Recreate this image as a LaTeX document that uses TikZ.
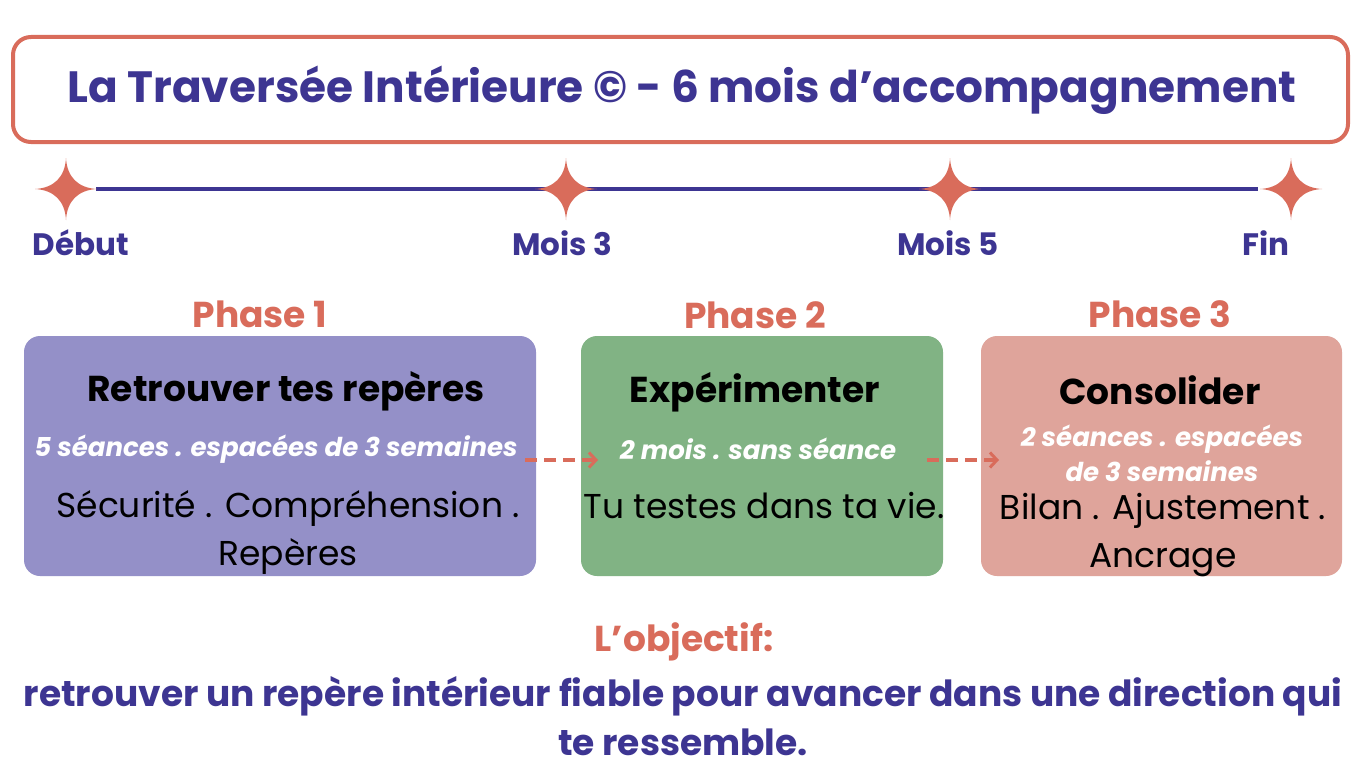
\documentclass[tikz,border=0pt]{standalone}
\usepackage{fontspec}
\setmainfont{Poppins}
\usetikzlibrary{arrows.meta}
\definecolor{indigo}{HTML}{3D3592}
\definecolor{coral}{HTML}{D96C5B}
\definecolor{lavbox}{HTML}{9490C8}
\definecolor{greenbox}{HTML}{81B384}
\definecolor{pinkbox}{HTML}{DFA49B}
\newcommand{\fs}[2]{\fontsize{#1}{#2}\selectfont}
\tikzset{
  sparkle/.pic={\fill[coral] (31,0) .. controls (12,1) and (1,12) .. (0,31)
      .. controls (-1,12) and (-12,1) .. (-31,0)
      .. controls (-12,-1) and (-1,-12) .. (0,-31)
      .. controls (1,-12) and (12,-1) .. cycle;},
  milestone/.style={text=indigo, font=\bfseries\fs{31}{37}},
  phasehead/.style={text=coral, font=\bfseries\fs{36}{43}},
  phasebox/.style={rounded corners=16pt, minimum height=240pt, draw=none},
  boxtitle/.style={text=black, font=\bfseries\fs{36}{43}},
  boxsub/.style={text=white, font=\bfseries\itshape\fs{26}{35}, align=center},
  boxbody/.style={text=black, font=\fs{34.5}{48}, align=center},
  flow/.style={coral, line width=3.5pt, dash pattern=on 12pt off 7pt, -{Straight Barb[length=7pt,width=15pt,line width=3pt]}}
}
\begin{document}
\begin{tikzpicture}[x=1pt,y=-1pt]
\useasboundingbox[fill=white] (0,0) rectangle (1366,768);
% title
\node[draw=coral, line width=4pt, rounded corners=18pt, minimum width=1335pt, minimum height=105pt]
  (title) at (680.5,89.5) {};
\node[text=indigo, font=\bfseries\fs{43.8}{52}] (titletext) at (682,90) {La Traversée Intérieure © - 6 mois d’accompagnement};
% timeline
\coordinate (s1) at (66,189);
\coordinate (s2) at (566,189);
\coordinate (s3) at (950,189);
\coordinate (s4) at (1291,189);
\draw[indigo, line width=4pt] ([xshift=30pt]s1) -- ([xshift=-33pt]s4);
\foreach \s in {s1,s2,s3,s4}
  \pic at (\s) {sparkle};
\node[milestone] (debut) at (81,243) {Début};
\node[milestone] (mois3) at (562,243) {Mois 3};
\node[milestone] (mois5) at (948,243) {Mois 5};
\node[milestone] (fin) at (1266,243) {Fin};
% phases
\node[phasehead] (ph1) at (260,314) {Phase 1};
\node[phasehead] (ph2) at (755,315) {Phase 2};
\node[phasehead] (ph3) at (1160,314) {Phase 3};
\node[phasebox, fill=lavbox, minimum width=512pt] (b1) at (280,456) {};
\node[phasebox, fill=greenbox, minimum width=362pt] (b2) at (762,456) {};
\node[phasebox, fill=pinkbox, minimum width=361pt] (b3) at (1161.5,456) {};
% phase 1
\node[boxtitle] (t1) at (286,391) {Retrouver tes repères};
\node[boxsub] (u1) at (276,449) {5 séances . espacées de 3 semaines};
\node[boxbody] (c1) at (288,532) {Sécurité . Compréhension .\\Repères};
% phase 2
\node[boxtitle] (t2) at (755,392) {Expérimenter};
\node[boxsub] (u2) at (758,449) {2 mois . sans séance};
\node[boxbody] (c2) at (764,506) {Tu testes dans ta vie.};
% phase 3
\node[boxtitle] (t3) at (1160,390) {Consolider};
\node[boxsub] (u3) at (1162,453) {2 séances . espacées\\de 3 semaines};
\node[boxbody] (c3) at (1163,535) {Bilan . Ajustement .\\Ancrage};
% arrows
\coordinate (a1) at (525,460);
\coordinate (a2) at (598,460);
\coordinate (a3) at (927,460);
\coordinate (a4) at (999,460);
\draw[flow] (a1) -- (a2);
\draw[flow] (a3) -- (a4);
% goal
\node[text=coral, font=\bfseries\fs{36}{43}] (goal) at (684,642) {L’objectif:};
\node[text=indigo, font=\bfseries\fs{36}{49}, align=center] (goaltext) at (683,716)
  {retrouver un repère intérieur fiable pour avancer dans une direction qui\\te ressemble.};
\end{tikzpicture}
\end{document}
